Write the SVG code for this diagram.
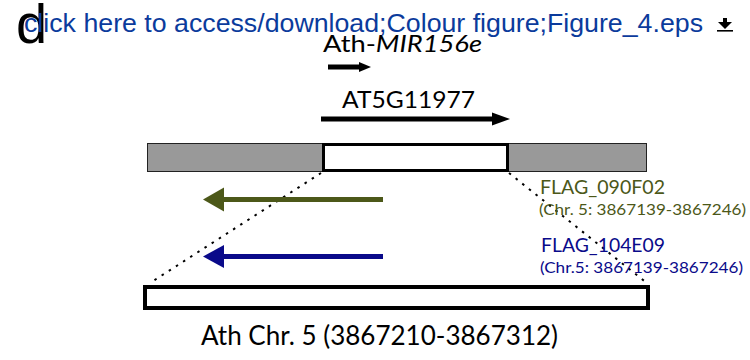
<svg xmlns="http://www.w3.org/2000/svg" width="750" height="360" viewBox="0 0 750 360">
<defs>
<style>
.cal{font-family:Lato,"Open Sans","Noto Sans",sans-serif;}
.hdr{font-family:"Liberation Sans",Arial,sans-serif;}
.dot{fill:none;stroke:#000;stroke-width:2;stroke-dasharray:2.5,6;}
</style>
</defs>
<rect width="750" height="360" fill="#fff"/>
<g id="header">
<text class="hdr" x="16" y="43" font-size="56" fill="#000">d</text>
<text class="hdr" x="24" y="32" font-size="26.5" fill="#0b3b9c" textLength="679" lengthAdjust="spacingAndGlyphs">click here to access/download;Colour figure;Figure_4.eps</text>
<g id="download-icon" fill="#000">
<rect x="723" y="18" width="4" height="5"/>
<polygon points="718,22 732,22 725,29"/>
<rect x="717" y="30" width="16" height="1.6"/>
</g>
</g>
<g id="connectors">
<line class="dot" x1="321" y1="173" x2="150" y2="283"/>
<line class="dot" x1="509" y1="173" x2="648" y2="284"/>
</g>
<g id="mir156e">
<text class="cal" x="323" y="52" font-size="24" fill="#000" textLength="159" lengthAdjust="spacingAndGlyphs">Ath-<tspan font-style="italic">MIR156e</tspan></text>
<line x1="328" y1="67" x2="362" y2="67" stroke="#000" stroke-width="5"/>
<polygon points="359,62 371,67 359,72" fill="#000"/>
</g>
<g id="at5g11977">
<text class="cal" x="342" y="108" font-size="24" fill="#000" textLength="133" lengthAdjust="spacingAndGlyphs">AT5G11977</text>
<line x1="321" y1="119" x2="495" y2="119" stroke="#000" stroke-width="5"/>
<polygon points="492,112.5 510,119 492,125.5" fill="#000"/>
</g>
<g id="genomic-bar">
<rect x="147.5" y="143.5" width="499" height="28" fill="#999" stroke="#222" stroke-width="1"/>
<rect x="323.5" y="144.5" width="184" height="26" fill="#fff" stroke="#000" stroke-width="3"/>
</g>
<g id="flag-090f02">
<line x1="383" y1="199.5" x2="222" y2="199.5" stroke="#4c5819" stroke-width="5"/>
<polygon points="224,187.5 203,199.5 224,211.5" fill="#4c5819"/>
<text class="cal" x="540" y="194" font-size="19" fill="#4c5819" textLength="125" lengthAdjust="spacingAndGlyphs">FLAG_090F02</text>
<text class="cal" x="539" y="215" font-size="15" fill="#4c5819" textLength="207" lengthAdjust="spacingAndGlyphs">(Chr. 5: 3867139-3867246)</text>
</g>
<g id="flag-104e09">
<line x1="383" y1="256.5" x2="222" y2="256.5" stroke="#0a0a8a" stroke-width="5"/>
<polygon points="224,245 203,256.5 224,268" fill="#0a0a8a"/>
<text class="cal" x="541" y="252" font-size="19" fill="#0a0a8a" textLength="124" lengthAdjust="spacingAndGlyphs">FLAG_104E09</text>
<text class="cal" x="540" y="273" font-size="15" fill="#0a0a8a" textLength="203" lengthAdjust="spacingAndGlyphs">(Chr.5: 3867139-3867246)</text>
</g>
<g id="chr5">
<rect x="145" y="287" width="503" height="21" fill="#fff" stroke="#000" stroke-width="4"/>
<text class="cal" x="201" y="345" font-size="26" fill="#000" textLength="357" lengthAdjust="spacingAndGlyphs">Ath Chr. 5 (3867210-3867312)</text>
</g>
</svg>
